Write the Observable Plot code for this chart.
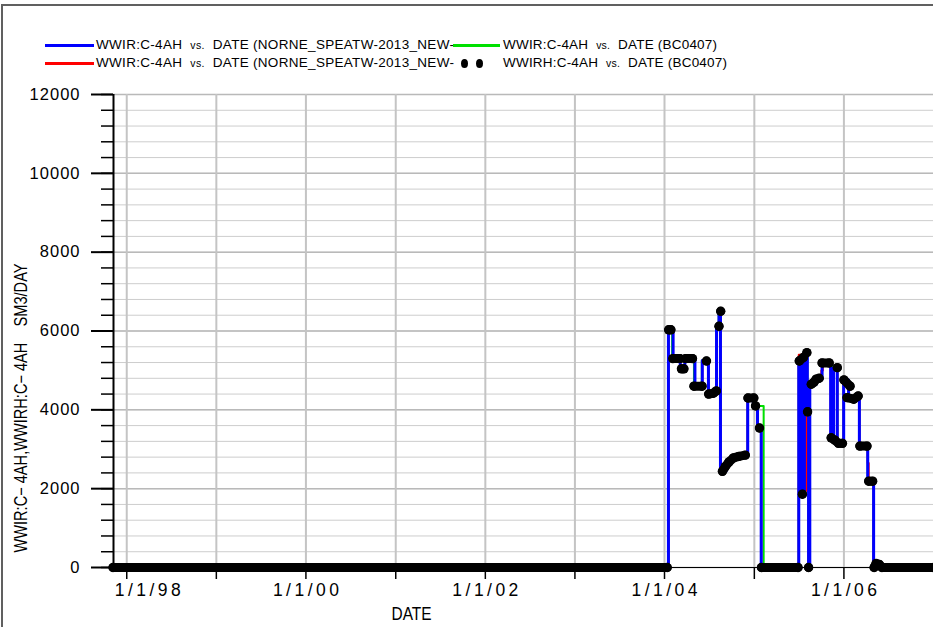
<!DOCTYPE html>
<html><head><meta charset="utf-8">
<script src="https://cdn.jsdelivr.net/npm/d3@7"></script>
<script src="https://cdn.jsdelivr.net/npm/@observablehq/plot@0.6"></script>
<style>
body{margin:0;background:#fff;}
#wrap{position:relative;width:933px;height:627px;overflow:hidden;background:#fff;}
#frame{position:absolute;left:1px;top:4px;width:1000px;height:700px;border-left:2px solid #606060;border-top:2px solid #606060;}
#legend{position:absolute;left:0;top:0;width:933px;height:80px;font-family:"Liberation Sans",Arial,sans-serif;font-size:13.5px;color:#000;}
.sw{position:absolute;height:3px;z-index:2;}
.lt{position:absolute;white-space:pre;line-height:14px;}
.vs{font-size:10.5px;}
.dotsw{position:absolute;width:7px;height:9px;border-radius:50%;background:#000;}
#chart{position:absolute;left:0;top:80px;}
</style></head>
<body><div id="wrap"><div id="frame"></div><div id="legend"></div><div id="chart"></div></div>
<script>
// ---------------- data ----------------
const legendLabels = [
  ["WWIR:C-4AH", "vs.", "DATE (NORNE_SPEATW-2013_NEW-"],
  ["WWIR:C-4AH", "vs.", "DATE (NORNE_SPEATW-2013_NEW-"],
  ["WWIR:C-4AH", "vs.", "DATE (BC0407)"],
  ["WWIRH:C-4AH", "vs.", "DATE (BC0407)"]
];
const seriesColors = ["#0000ff", "#ff0000", "#00e000", "#000000"];

const yMajorTicks = [0, 2000, 4000, 6000, 8000, 10000, 12000];
const yMinorTicks = d3.range(0, 12001, 400);
const yearTicks = ["1998-01-01","1999-01-01","2000-01-01","2001-01-01","2002-01-01","2003-01-01","2004-01-01","2005-01-01","2006-01-01"];
const labelTicks = ["1998-01-01","2000-01-01","2002-01-01","2004-01-01","2006-01-01"];
const xDomain = ["1997-11-08", "2007-01-01"];
const yLabel = "WWIR:C\u2212 4AH,WWIRH:C\u2212 4AH    SM3/DAY";
const xLabel = "DATE";

// simulated WWIR (NORNE_SPEATW-2013_NEW..., blue) – step values
const simBlue = [
  ["1997-11-06",0],["2004-01-17",6020],["2004-02-05",5300],["2004-03-05",5050],["2004-03-24",5300],
  ["2004-05-04",4600],["2004-06-03",5250],["2004-06-28",4420],["2004-07-31",6150],["2004-08-10",6480],
  ["2004-08-16",2450],["2004-09-08",2700],["2004-10-01",2790],["2004-11-01",2840],["2004-12-05",4300],
  ["2004-12-28",4100],["2005-01-14",3550],["2005-01-29",0],["2005-07-01",5250],["2005-07-13",1870],
  ["2005-07-24",5450],["2005-08-05",3950],["2005-08-10",0],["2005-08-15",4650],["2005-09-10",4780],
  ["2005-10-04",5190],["2005-11-08",3290],["2005-11-20",5070],["2005-12-05",3150],["2005-12-31",4760],
  ["2006-01-20",4320],["2006-03-05",3080],["2006-04-08",2190],["2006-05-02",0],["2007-01-01",0]
];
// simulated WWIR (second NORNE run, red)
const simRed = [
  ["1997-11-06",0],["2004-01-17",6020],["2004-02-05",5300],["2004-03-05",5050],["2004-03-24",5300],
  ["2004-05-04",4600],["2004-06-03",5250],["2004-06-28",4420],["2004-07-31",6150],["2004-08-10",6480],
  ["2004-08-16",2450],["2004-09-08",2700],["2004-10-01",2790],["2004-11-01",2840],["2004-12-05",4300],
  ["2004-12-28",4100],["2005-01-14",3550],["2005-01-29",0],["2005-07-01",5400],["2005-07-29",1950],
  ["2005-08-05",3950],["2005-08-10",0],["2005-08-15",4650],["2005-09-10",4780],["2005-10-01",5000],
  ["2005-10-07",5190],["2005-11-08",3290],["2005-11-20",5070],["2005-12-05",3150],["2005-12-31",4760],
  ["2006-01-20",4320],["2006-03-05",3080],["2006-04-08",2650],["2006-04-12",2190],["2006-05-02",0],["2007-01-01",0]
];
// simulated WWIR (BC0407, green)
const simGreen = [
  ["1997-11-06",0],["2004-01-17",6000],["2004-02-01",5300],["2004-03-05",5050],["2004-03-24",5300],
  ["2004-04-30",4600],["2004-06-01",5250],["2004-06-28",4420],["2004-07-31",6150],["2004-08-09",6500],
  ["2004-08-16",2450],["2004-09-08",2700],["2004-10-01",2790],["2004-11-01",2840],["2004-12-05",4300],
  ["2004-12-28",4100],["2005-02-08",0],["2005-07-01",5250],["2005-07-13",1870],["2005-07-24",5450],
  ["2005-08-05",3950],["2005-08-10",0],["2005-08-15",4650],["2005-09-10",4780],["2005-10-04",5190],
  ["2005-11-14",3400],["2005-11-20",5070],["2005-12-05",3150],["2005-12-31",4760],["2006-01-20",4320],
  ["2006-03-05",3080],["2006-04-08",2190],["2006-05-02",0],["2007-01-01",0]
];
// observed WWIRH (BC0407, black dots); null separates runs of points
const histWWIRH = [
  ["1997-11-06",0],["2004-01-12",0],null,
  ["2004-01-18",6030],["2004-01-27",6030],null,
  ["2004-02-04",5300],["2004-03-04",5300],null,
  ["2004-03-10",5040],["2004-03-20",5040],null,
  ["2004-03-27",5300],["2004-04-24",5300],null,
  ["2004-04-30",4600],["2004-06-02",4600],null,
  ["2004-06-20",5240],null,
  ["2004-06-29",4400],["2004-07-18",4420],["2004-07-30",4480],null,
  ["2004-08-10",6120],null,
  ["2004-08-17",6500],null,
  ["2004-08-24",2440],["2004-09-05",2560],["2004-09-20",2680],["2004-10-08",2780],["2004-10-30",2820],["2004-11-25",2850],null,
  ["2004-12-06",4300],["2004-12-30",4300],null,
  ["2005-01-06",4100],null,
  ["2005-01-22",3540],null,
  ["2005-01-30",0],["2005-06-28",0],null,
  ["2005-07-03",5240],["2005-07-20",5330],null,
  ["2005-07-16",1860],null,
  ["2005-08-03",5450],null,
  ["2005-08-06",3950],null,
  ["2005-08-10",0],null,
  ["2005-08-21",4650],["2005-09-01",4700],["2005-09-10",4780],["2005-09-22",4800],null,
  ["2005-10-04",5190],["2005-11-02",5190],null,
  ["2005-11-10",3290],["2005-11-25",3230],["2005-12-10",3150],["2005-12-26",3150],null,
  ["2005-12-05",5070],null,
  ["2006-01-01",4760],["2006-01-26",4600],null,
  ["2006-01-14",4310],["2006-02-10",4270],["2006-02-28",4350],null,
  ["2006-03-07",3080],["2006-04-05",3080],null,
  ["2006-04-12",2190],["2006-04-28",2190],null,
  ["2006-05-04",0],["2006-05-12",100],["2006-05-25",80],["2006-06-05",0],["2007-01-01",0]
];

// ---------------- helpers ----------------
const toRows = arr => arr.map(p => p ? {date: new Date(p[0]), value: p[1]} : {date: null, value: null});
const blue = toRows(simBlue), red = toRows(simRed), green = toRows(simGreen), hist = toRows(histWWIRH);
const fmtDate = d => `${d.getUTCMonth()+1}/${d.getUTCDate()}/${String(d.getUTCFullYear()).slice(2)}`;
const labelDates = labelTicks.map(s => new Date(s));
const yearDates = yearTicks.map(s => new Date(s));

// ---------------- legend ----------------
const legend = document.getElementById("legend");
const slots = [
  {sx: 45, sw: 49, tx: 96, row: 0, ls: 0.3},
  {sx: 45, sw: 49, tx: 96, row: 1, ls: 0.3},
  {sx: 453, sw: 47, tx: 503, row: 0, ls: 0.2},
  {sx: 453, sw: 47, tx: 503, row: 1, ls: 0.2}
];
legendLabels.forEach((lab, i) => {
  const s = slots[i];
  const cy = 45 + s.row * 18;
  if (i < 3) {
    const sw = document.createElement("div");
    sw.className = "sw";
    sw.style.left = s.sx + "px"; sw.style.width = s.sw + "px";
    sw.style.top = (cy - 1) + "px"; sw.style.background = seriesColors[i];
    legend.appendChild(sw);
  } else {
    [464, 479].forEach(x => {
      const d = document.createElement("div");
      d.className = "dotsw";
      d.style.left = (x - 3) + "px"; d.style.top = (cy - 4) + "px";
      legend.appendChild(d);
    });
  }
  const t = document.createElement("div");
  t.className = "lt";
  t.style.left = s.tx + "px"; t.style.top = (cy - 7) + "px";
  t.style.letterSpacing = s.ls + "px";
  t.innerHTML = `${lab[0]}  <span class="vs">${lab[1]}</span>  ${lab[2]}`;
  legend.appendChild(t);
});

// ---------------- chart ----------------
const axisFont = "'Liberation Sans', Arial, sans-serif";
const chart = Plot.plot({
  width: 933,
  height: 547,
  marginLeft: 113,
  marginRight: 0,
  marginTop: 14,
  marginBottom: 60,
  style: {fontFamily: axisFont, background: "transparent", overflow: "visible"},
  x: {type: "utc", domain: xDomain.map(s => new Date(s)), label: null},
  y: {type: "linear", domain: [0, 12000], label: null},
  marks: [
    Plot.gridY(yMinorTicks, {stroke: "#cdcdcd", strokeOpacity: 1, strokeWidth: 1}),
    Plot.gridY(yMajorTicks, {stroke: "#b9b9b9", strokeOpacity: 1, strokeWidth: 1.5}),
    Plot.gridX(yearDates, {stroke: "#c4c4c4", strokeOpacity: 1, strokeWidth: 2}),
    Plot.ruleY([0], {stroke: "#000", strokeWidth: 1}),
    // x tick marks (every year)
    Plot.axisX(yearDates, {tickSize: 12, tickFormat: () => "", label: null, stroke: "#000", strokeWidth: 1.5}),
    // x tick labels (every two years); first one shifted right of the y axis
    Plot.axisX(labelDates.slice(1), {tickSize: 0, tickPadding: 16, tickFormat: fmtDate, label: null,
      fontFamily: axisFont, fontSize: 17.5, fill: "#000"}),
    Plot.axisX(labelDates.slice(0, 1), {tickSize: 0, tickPadding: 16, tickFormat: fmtDate, dx: 21, label: null,
      fontFamily: axisFont, fontSize: 17.5, fill: "#000"}),
    // y ticks
    Plot.axisY(yMinorTicks, {tickSize: 12, tickFormat: () => "", label: null, stroke: "#000", strokeWidth: 1.5}),
    Plot.axisY(yMajorTicks, {tickSize: 22, tickPadding: 11, tickFormat: d3.format("d"), label: null,
      stroke: "#000", strokeWidth: 2, fontSize: 16.5, fill: "#000"}),
    Plot.ruleX([new Date(xDomain[0])], {stroke: "#000", strokeWidth: 2}),
    // axis titles
    Plot.text([yLabel], {frameAnchor: "left", textAnchor: "middle", rotate: -90, dx: -92, dy: 77, fontSize: 17.5,
      fontFamily: axisFont, fill: "#000"}),
    Plot.text([xLabel], {frameAnchor: "bottom", dx: -112, dy: 47, lineAnchor: "middle", fontSize: 18,
      fontFamily: axisFont, fill: "#000"}),
    // series
    Plot.line(green, {x: "date", y: "value", curve: "step-after", stroke: seriesColors[2], strokeWidth: 2}),
    Plot.line(red, {x: "date", y: "value", curve: "step-after", stroke: seriesColors[1], strokeWidth: 2}),
    Plot.line(blue, {x: "date", y: "value", curve: "step-after", stroke: seriesColors[0], strokeWidth: 3}),
    Plot.line(hist, {x: "date", y: "value", stroke: seriesColors[3], strokeWidth: 9, strokeLinecap: "round"}),
    Plot.dot(hist, {x: "date", y: "value", r: 4.7, fill: seriesColors[3], stroke: "none"})
  ]
});
document.getElementById("chart").appendChild(chart);

// narrow stroke-font look: fit texts to the reference lengths
d3.select(chart).selectAll("text").each(function() {
  const t = this.textContent;
  if (/^\d+\/\d+\/\d+$/.test(t)) {
    this.setAttribute("textLength", 66);
    this.setAttribute("lengthAdjust", "spacing");
  } else if (/^\d+$/.test(t)) {
    this.style.letterSpacing = "1px";
  } else if (t === yLabel) {
    this.setAttribute("textLength", 289);
    this.setAttribute("lengthAdjust", "spacingAndGlyphs");
  } else if (t === xLabel) {
    this.setAttribute("textLength", 40);
    this.setAttribute("lengthAdjust", "spacingAndGlyphs");
  }
});
</script>
</body></html>
